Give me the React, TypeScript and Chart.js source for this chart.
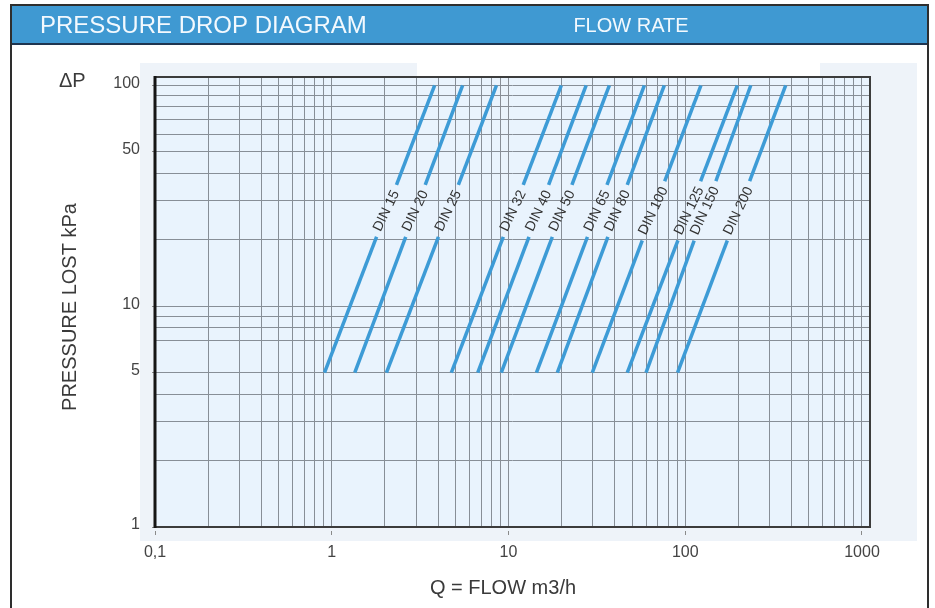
import React, { useEffect, useRef } from 'react';
import { Chart, registerables } from 'chart.js';

Chart.register(...registerables);

const FONT = '"Liberation Sans", Arial, Helvetica, sans-serif';

// Series: one straight line per pipe size, from 5 kPa to 100 kPa
const dinSizes = ['DIN 15', 'DIN 20', 'DIN 25', 'DIN 32', 'DIN 40', 'DIN 50', 'DIN 65', 'DIN 80', 'DIN 100', 'DIN 125', 'DIN 150', 'DIN 200'];
const flowAt5kPa = [0.91, 1.35, 2.04, 4.75, 6.7, 9.1, 14.4, 18.9, 29.8, 47, 60, 90.5];
const flowAt100kPa = [3.82, 5.5, 8.55, 19.9, 27.5, 37.2, 58.7, 76.1, 122.7, 197, 235, 370];
const lowDrop = 5;
const highDrop = 100;
const labelDrop = 27;

// Axes
const xMin = 0.1;
const xMax = 1110;
const yMin = 1;
const yMax = 109;
const xGridValues = [0.1, 0.2, 0.3, 0.4, 0.5, 0.6, 0.7, 0.8, 0.9, 1, 2, 3, 4, 5, 6, 7, 8, 9, 10, 20, 30, 40, 50, 60, 70, 80, 90, 100, 200, 300, 400, 500, 600, 700, 800, 900, 1000];
const yGridValues = [1, 2, 3, 4, 5, 7, 8, 9, 10, 20, 30, 40, 50, 60, 70, 80, 90, 100];
const xLabelValues = [0.1, 1, 10, 100, 1000];
const xLabelTexts = ['0,1', '1', '10', '100', '1000'];
const yLabelValues = [1, 5, 10, 50, 100];
const yLabelTexts = ['1', '5', '10', '50', '100'];

const titleText = 'PRESSURE DROP DIAGRAM';
const subtitleText = 'FLOW RATE';
const yAxisTop = 'ΔP';
const yAxisTitle = 'PRESSURE LOST kPa';
const xAxisTitle = 'Q = FLOW m3/h';

const LINE_BLUE = '#3d9bd6';
const HEADER_BLUE = '#3f99d2';
const PLOT_BG = '#e9f3fd';
const GRID = '#878e97';
const TEXT = '#3a3a3a';

function findIdx(list: number[], v: number) {
  for (let i = 0; i < list.length; i++) {
    if (Math.abs(list[i] - v) / list[i] < 1e-6) return i;
  }
  return -1;
}

function labelGeom(chart: any, i: number) {
  const xs = chart.scales.x;
  const ys = chart.scales.y;
  const x0 = xs.getPixelForValue(flowAt5kPa[i]);
  const y0 = ys.getPixelForValue(lowDrop);
  const x1 = xs.getPixelForValue(flowAt100kPa[i]);
  const y1 = ys.getPixelForValue(highDrop);
  const t = (Math.log(labelDrop) - Math.log(lowDrop)) / (Math.log(highDrop) - Math.log(lowDrop));
  return { cx: x0 + (x1 - x0) * t, cy: y0 + (y1 - y0) * t, ang: Math.atan2(y1 - y0, x1 - x0) };
}

const decorPlugin = {
  id: 'decor',
  beforeDraw(chart: any) {
    const ctx = chart.ctx;
    const a = chart.chartArea;
    ctx.save();
    ctx.fillStyle = '#ffffff';
    ctx.fillRect(0, 0, chart.width, chart.height);
    // faint panel behind plot
    ctx.fillStyle = '#eef3f9';
    ctx.fillRect(140, 63, 777, 478);
    ctx.fillStyle = '#ffffff';
    ctx.fillRect(417, 63, 403, 14);
    // header
    ctx.fillStyle = HEADER_BLUE;
    ctx.fillRect(12, 6, 915, 38);
    ctx.fillStyle = '#1f3550';
    ctx.fillRect(12, 43, 915, 2);
    // outer border
    ctx.strokeStyle = '#2e2e2e';
    ctx.lineWidth = 2;
    ctx.strokeRect(11, 5, 917, 620);
    // header texts
    ctx.fillStyle = '#f3f9fe';
    ctx.textBaseline = 'middle';
    ctx.textAlign = 'left';
    ctx.font = `24px ${FONT}`;
    ctx.fillText(titleText, 40, 26);
    ctx.textAlign = 'center';
    ctx.font = `20px ${FONT}`;
    ctx.fillText(subtitleText, 631, 26);
    // plot background
    ctx.fillStyle = PLOT_BG;
    ctx.fillRect(a.left, a.top, a.right - a.left, a.bottom - a.top);
    ctx.restore();
  },
  beforeDatasetsDraw(chart: any) {
    const ctx = chart.ctx;
    ctx.save();
    ctx.font = `14px ${FONT}`;
    ctx.beginPath();
    ctx.rect(0, 0, chart.width, chart.height);
    for (let i = 0; i < dinSizes.length; i++) {
      const g = labelGeom(chart, i);
      const half = ctx.measureText(dinSizes[i]).width / 2 + 6;
      const th = 4;
      const ux = Math.cos(g.ang), uy = Math.sin(g.ang);
      const vx = -uy, vy = ux;
      ctx.moveTo(g.cx - ux * half - vx * th, g.cy - uy * half - vy * th);
      ctx.lineTo(g.cx + ux * half - vx * th, g.cy + uy * half - vy * th);
      ctx.lineTo(g.cx + ux * half + vx * th, g.cy + uy * half + vy * th);
      ctx.lineTo(g.cx - ux * half + vx * th, g.cy - uy * half + vy * th);
      ctx.closePath();
    }
    ctx.clip('evenodd');
  },
  afterDatasetsDraw(chart: any) {
    const ctx = chart.ctx;
    ctx.restore();
    const a = chart.chartArea;
    ctx.save();
    // line labels
    ctx.font = `14px ${FONT}`;
    ctx.fillStyle = '#333333';
    ctx.textAlign = 'center';
    ctx.textBaseline = 'middle';
    for (let i = 0; i < dinSizes.length; i++) {
      const g = labelGeom(chart, i);
      ctx.save();
      ctx.translate(g.cx, g.cy);
      ctx.rotate(g.ang + (5 * Math.PI) / 180);
      ctx.fillText(dinSizes[i], 0, 0);
      ctx.restore();
    }
    // frame
    ctx.strokeStyle = '#3c3c3c';
    ctx.lineWidth = 2;
    ctx.strokeRect(a.left, a.top, a.right - a.left, a.bottom - a.top);
    ctx.strokeStyle = '#151515';
    ctx.lineWidth = 3;
    ctx.beginPath();
    ctx.moveTo(a.left, a.top - 1);
    ctx.lineTo(a.left, a.bottom + 1);
    ctx.stroke();
    // axis titles
    ctx.fillStyle = TEXT;
    ctx.font = `20px ${FONT}`;
    ctx.textAlign = 'left';
    ctx.fillText(yAxisTop, 59, 81);
    ctx.textAlign = 'center';
    ctx.fillText(xAxisTitle, 503, 588);
    ctx.translate(70, 307);
    ctx.rotate(-Math.PI / 2);
    ctx.fillText(yAxisTitle, 0, 0);
    ctx.restore();
  },
};

export default function App() {
  const ref = useRef<HTMLCanvasElement | null>(null);

  useEffect(() => {
    document.body.style.margin = '0';
    const canvas = ref.current;
    if (!canvas) return;
    const datasets = dinSizes.map((name, i) => ({
      label: name,
      data: [
        { x: flowAt5kPa[i], y: lowDrop },
        { x: flowAt100kPa[i], y: highDrop },
      ],
      borderColor: LINE_BLUE,
      backgroundColor: LINE_BLUE,
      borderWidth: 3.5,
      pointRadius: 0,
      fill: false,
      tension: 0,
    }));

    const chart = new Chart(canvas, {
      type: 'line',
      data: { datasets },
      options: {
        responsive: false,
        animation: false,
        events: [],
        layout: { padding: { left: 0, top: 77, right: 65, bottom: 41 } },
        plugins: { legend: { display: false }, tooltip: { enabled: false } },
        scales: {
          x: {
            type: 'logarithmic',
            min: xMin,
            max: xMax,
            afterFit(s: any) {
              s.height = 40;
            },
            afterBuildTicks(s: any) {
              s.ticks = xGridValues.map((v) => ({ value: v }));
            },
            border: { display: false },
            grid: {
              color: GRID,
              lineWidth: 1,
              drawTicks: true,
              tickLength: 9,
              tickWidth: 1,
              tickBorderDash: [0, 4, 4, 60],
              tickColor: (c: any) => (c.tick && findIdx(xLabelValues, c.tick.value) >= 0 ? '#8a8a8a' : 'rgba(0,0,0,0)'),
            },
            ticks: {
              autoSkip: false,
              maxRotation: 0,
              minRotation: 0,
              padding: 7,
              color: '#444444',
              font: { size: 16, family: FONT },
              callback: (v: any) => {
                const k = findIdx(xLabelValues, Number(v));
                return k >= 0 ? xLabelTexts[k] : '';
              },
            },
          },
          y: {
            type: 'logarithmic',
            min: yMin,
            max: yMax,
            afterFit(s: any) {
              s.width = 155;
            },
            afterBuildTicks(s: any) {
              s.ticks = yGridValues.map((v) => ({ value: v }));
            },
            border: { display: false },
            grid: {
              color: GRID,
              lineWidth: 1,
              drawTicks: true,
              tickLength: 9,
              tickWidth: 1,
              tickBorderDash: [0, 6, 3, 60],
              tickColor: (c: any) => (c.tick && findIdx(yLabelValues, c.tick.value) >= 0 ? '#8a8a8a' : 'rgba(0,0,0,0)'),
            },
            ticks: {
              autoSkip: false,
              padding: 6,
              labelOffset: -2,
              color: '#444444',
              font: { size: 16, family: FONT },
              callback: (v: any) => {
                const k = findIdx(yLabelValues, Number(v));
                return k >= 0 ? yLabelTexts[k] : '';
              },
            },
          },
        },
      },
      plugins: [decorPlugin],
    } as any);

    return () => chart.destroy();
  }, []);

  return (
    <div style={{ position: 'absolute', left: 0, top: 0, width: 935, height: 608 }}>
      <canvas ref={ref} width={935} height={608} style={{ display: 'block' }} />
    </div>
  );
}
